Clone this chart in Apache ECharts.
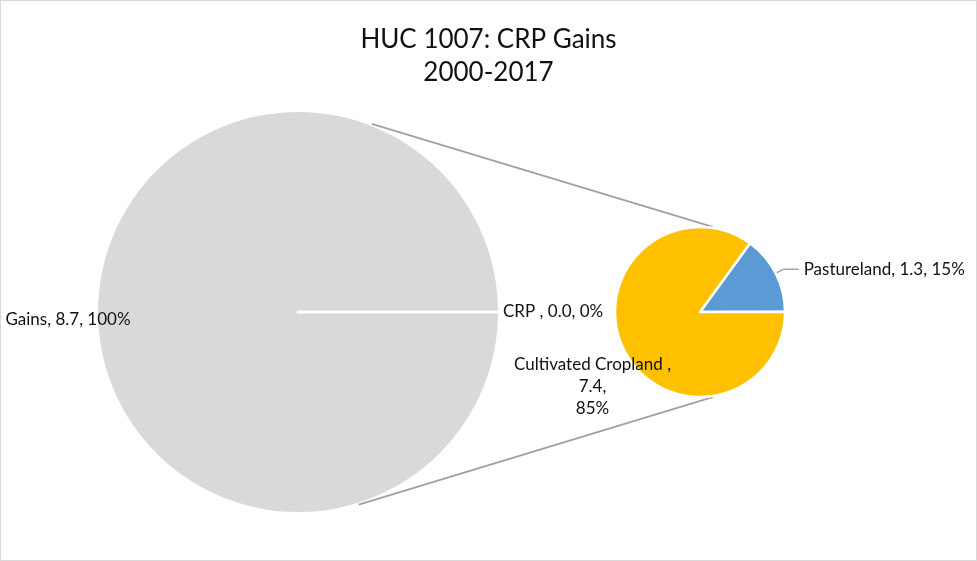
<!DOCTYPE html>
<html><head><meta charset="utf-8">
<script src="https://cdn.jsdelivr.net/npm/echarts@6/dist/echarts.min.js"></script>
<style>
html,body{margin:0;padding:0;background:#fff;}
#c{width:977px;height:561px;box-sizing:border-box;border:1px solid #d9d9d9;}
</style></head><body>
<div id="c"></div>
<script>
// ---- data ----
const titleLines = ['HUC 1007: CRP Gains', '2000-2017'];
const mainNames = ['Gains', 'CRP '];
const mainValues = [8.7, 0.0];
const mainPct = ['100%', '0%'];
const subNames = ['Pastureland', 'Cultivated Cropland '];
const subValues = [1.3, 7.4];
const subPct = ['15%', '85%'];

// ---- layout (styles) ----
const bigC = [297, 311], bigR = 200;
const smallC = [699, 311], smallR = 85;
const FONT = 'Lato';
const LFS = 17;

const chart = echarts.init(document.getElementById('c'), null, {renderer: 'canvas'});

const mainData = mainNames.map((n, i) => ({
  name: n, value: mainValues[i], pct: mainPct[i],
  itemStyle: i === 0 ? {color: '#d9d9d9', borderWidth: 0} : {color: '#d9d9d9', borderColor: '#ffffff', borderWidth: 3},
  label: i === 0 ? {position: 'inside'} : {position: 'outside'},
  labelLine: {show: false, length: 0, length2: 0}
}));
const subData = subNames.map((n, i) => ({
  name: n, value: subValues[i], pct: subPct[i],
  itemStyle: {color: i === 0 ? '#5b9bd5' : '#ffc000'},
  label: i === 0 ? {position: 'outside'} : {position: 'inside', lineHeight: 22},
  labelLine: i === 0 ? {show: true, length: 9, length2: 15, lineStyle: {color: '#a5a5a5', width: 1.5}} : {show: false}
}));

function fmtMain(p) { return p.name + ', ' + p.value.toFixed(1) + ', ' + p.data.pct; }
function fmtSub(p) {
  if (p.dataIndex === 1) return p.name + ',\n' + p.value.toFixed(1) + ',\n' + p.data.pct;
  return p.name + ', ' + p.value.toFixed(1) + ', ' + p.data.pct;
}

// connector lines between the two pies (pie-of-pie)
function pt(c, r, deg) { const a = deg * Math.PI / 180; return [c[0] + r * Math.cos(a), c[1] - r * Math.sin(a)]; }
const bigTop = pt(bigC, bigR + 2, 68.6), bigBot = pt(bigC, bigR + 2, -72.5);
const smTop = pt(smallC, smallR + 1, 81.5), smBot = pt(smallC, smallR + 1, -81.5);

chart.setOption({
  animation: false,
  backgroundColor: '#ffffff',
  title: {
    text: titleLines.join('\n'), left: 'center', top: 17,
    textStyle: {fontFamily: FONT, fontSize: 26, fontWeight: 'normal', color: '#111', lineHeight: 33}
  },
  graphic: [
    {type: 'line', shape: {x1: bigTop[0], y1: bigTop[1], x2: smTop[0], y2: smTop[1]}, style: {stroke: '#a0a0a0', lineWidth: 1.75}, z: 1},
    {type: 'line', shape: {x1: bigBot[0], y1: bigBot[1], x2: smBot[0], y2: smBot[1]}, style: {stroke: '#a0a0a0', lineWidth: 1.75}, z: 1}
  ],
  series: [
    {
      type: 'pie', center: bigC, radius: bigR, startAngle: 0, clockwise: true,
      avoidLabelOverlap: false, minShowLabelAngle: 0, silent: true, z: 3,
      label: {show: true, formatter: fmtMain, fontFamily: FONT, fontSize: LFS, color: '#111', overflow: 'none'},
      labelLayout: function (p) { return p.dataIndex === 0 ? {dx: -127, dy: 8} : {}; },
      data: mainData
    },
    {
      type: 'pie', center: smallC, radius: smallR, startAngle: 54, clockwise: true,
      avoidLabelOverlap: false, silent: true, z: 3,
      itemStyle: {borderColor: '#ffffff', borderWidth: 2.5},
      label: {show: true, formatter: fmtSub, fontFamily: FONT, fontSize: LFS, color: '#111', overflow: 'none'},
      labelLayout: function (p) { return p.dataIndex === 1 ? {dx: -67, dy: 54} : {}; },
      data: subData
    }
  ]
});
</script>
</body></html>
